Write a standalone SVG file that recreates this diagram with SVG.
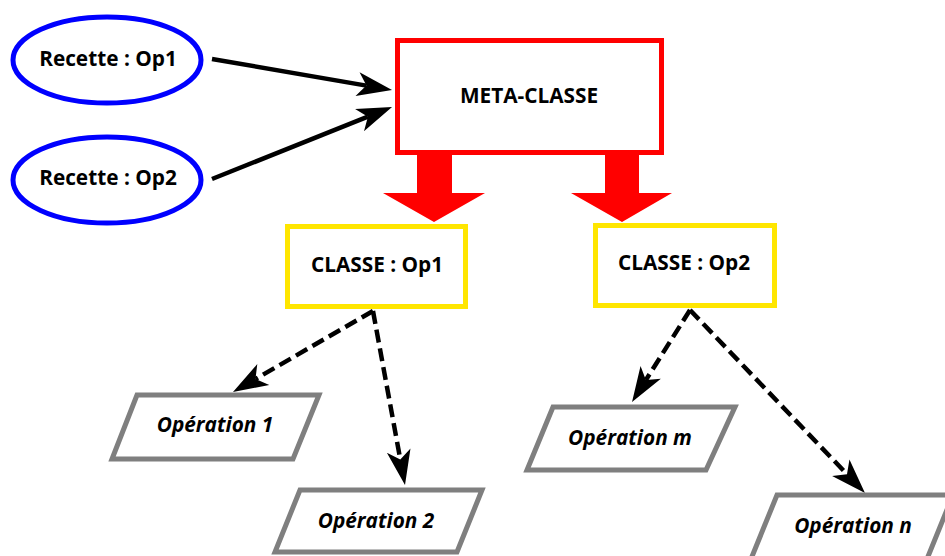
<svg xmlns="http://www.w3.org/2000/svg" width="945" height="556" viewBox="0 0 945 556">
<defs>
<style>
.ell{fill:#fff;stroke:#0000ff;stroke-width:5}
.meta{fill:#fff;stroke:#ff0000;stroke-width:5}
.cls{fill:#fff;stroke:#ffe600;stroke-width:5}
.op{fill:#fff;stroke:#7f7f7f;stroke-width:5}
.blk{fill:#ff0000}
.t{font-family:"Open Sans","DejaVu Sans",sans-serif;font-weight:bold;font-size:20.8px;fill:#000;text-anchor:middle}
.ti{font-style:italic}
.solid{fill:none;stroke:#000;stroke-width:4.5;marker-end:url(#ah)}
.dash{fill:none;stroke:#000;stroke-width:4.5;stroke-dasharray:13 6;marker-end:url(#ah)}
</style>
<marker id="ah" markerUnits="userSpaceOnUse" orient="auto" refX="0" refY="0" markerWidth="60" markerHeight="40" viewBox="-10 -20 60 40" overflow="visible">
<path d="M26,0 L-9,-12 L0,0 L-9,12 Z" fill="#000"/>
</marker>
</defs>
<rect width="945" height="556" fill="#fff"/>
<g id="connectors">
<line class="solid" x1="212" y1="59" x2="366.4" y2="85.6"/>
<line class="solid" x1="212" y1="179" x2="367.9" y2="116.7"/>
<polygon class="blk" points="417,150 452,150 452,193 485,193 434,222 383,193 417,193"/>
<polygon class="blk" points="605,150 639,150 639,193 672,193 622,222 571,193 605,193"/>
<line class="dash" x1="373" y1="311" x2="255.5" y2="379"/>
<line class="dash" x1="373" y1="311" x2="400.3" y2="459.4"/>
<line class="dash" x1="690" y1="310" x2="645.9" y2="380"/>
<line class="dash" x1="690" y1="310" x2="847" y2="474.2"/>
</g>
<g id="recette1">
<ellipse class="ell" cx="107" cy="60" rx="94" ry="43"/>
<text class="t" x="108" y="66">Recette : Op1</text>
</g>
<g id="recette2">
<ellipse class="ell" cx="107" cy="180" rx="94" ry="43"/>
<text class="t" x="108" y="185">Recette : Op2</text>
</g>
<g id="meta-classe">
<rect class="meta" x="397.5" y="40.5" width="264" height="112"/>
<text class="t" x="529" y="103">META-CLASSE</text>
</g>
<g id="classe-op1">
<rect class="cls" x="287.5" y="226.5" width="178" height="80"/>
<text class="t" x="377" y="272">CLASSE : Op1</text>
</g>
<g id="classe-op2">
<rect class="cls" x="595.5" y="225.5" width="179" height="80"/>
<text class="t" x="684" y="270">CLASSE : Op2</text>
</g>
<g id="operation-1">
<polygon class="op" points="137,395 319,395 293,459 112,459"/>
<text class="t ti" x="215" y="432">Opération 1</text>
</g>
<g id="operation-2">
<polygon class="op" points="300,490 482,490 457,552 275,552"/>
<text class="t ti" x="376" y="528">Opération 2</text>
</g>
<g id="operation-m">
<polygon class="op" points="553,407 735,407 706,470 527,470"/>
<text class="t ti" x="630" y="445">Opération m</text>
</g>
<g id="operation-n">
<polygon class="op" points="777,495 953,495 927,559 751,559"/>
<text class="t ti" x="853" y="533">Opération n</text>
</g>
</svg>
